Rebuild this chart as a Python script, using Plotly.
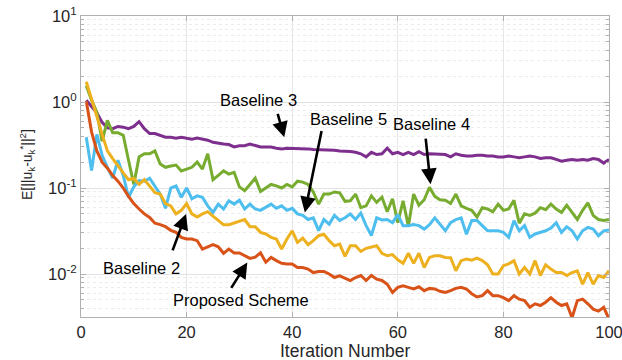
import plotly.graph_objects as go

iterations = list(range(1, 101))

baseline3 = [1.05, 0.9, 0.75, 0.58, 0.5, 0.49, 0.52, 0.51, 0.49, 0.52,
             0.59, 0.49, 0.43, 0.43, 0.41, 0.39, 0.39, 0.38, 0.39, 0.38,
             0.37, 0.38, 0.37, 0.36, 0.34, 0.33, 0.325, 0.32, 0.30, 0.31,
             0.31, 0.325, 0.31, 0.30, 0.30, 0.30, 0.29, 0.285, 0.29, 0.29,
             0.29, 0.29, 0.285, 0.28, 0.28, 0.28, 0.28, 0.275, 0.27, 0.27,
             0.265, 0.26, 0.25, 0.23, 0.26, 0.245, 0.25, 0.29, 0.25, 0.26,
             0.245, 0.26, 0.245, 0.265, 0.245, 0.25, 0.25, 0.25, 0.245, 0.23,
             0.25, 0.24, 0.235, 0.235, 0.24, 0.24, 0.235, 0.235, 0.23, 0.23,
             0.235, 0.23, 0.225, 0.23, 0.235, 0.23, 0.22, 0.225, 0.225, 0.215,
             0.205, 0.21, 0.215, 0.21, 0.215, 0.21, 0.22, 0.215, 0.195, 0.215]

baseline4 = [1.55, 1.05, 0.76, 0.35, 0.61, 0.44, 0.44, 0.41, 0.21, 0.11,
             0.23, 0.25, 0.25, 0.27, 0.19, 0.174, 0.18, 0.185, 0.158, 0.166,
             0.174, 0.2, 0.166, 0.25, 0.125, 0.14, 0.158, 0.145, 0.152, 0.103,
             0.093, 0.11, 0.13, 0.091, 0.1, 0.11, 0.106, 0.1, 0.11, 0.103,
             0.12, 0.117, 0.11, 0.09, 0.065, 0.085, 0.085, 0.09, 0.088, 0.07,
             0.071, 0.085, 0.059, 0.062, 0.081, 0.068, 0.078, 0.053, 0.075, 0.0395,
             0.071, 0.036, 0.085, 0.063, 0.073, 0.102, 0.08, 0.073, 0.072, 0.066,
             0.085, 0.062, 0.058, 0.055, 0.046, 0.059, 0.057, 0.053, 0.065, 0.055,
             0.057, 0.072, 0.039, 0.05, 0.048, 0.051, 0.059, 0.056, 0.065, 0.057,
             0.052, 0.063, 0.052, 0.043, 0.055, 0.067, 0.048, 0.043, 0.042, 0.043]

baseline5 = [0.39, 0.16, 0.42, 0.24, 0.174, 0.13, 0.21, 0.14, 0.078, 0.103,
             0.122, 0.12, 0.13, 0.106, 0.085, 0.058, 0.1, 0.106, 0.078, 0.1,
             0.075, 0.081, 0.078, 0.062, 0.052, 0.065, 0.057, 0.071, 0.065, 0.072,
             0.057, 0.065, 0.057, 0.055, 0.06, 0.065, 0.058, 0.062, 0.055, 0.058,
             0.05, 0.048, 0.043, 0.045, 0.032, 0.043, 0.038, 0.048, 0.042, 0.045,
             0.05, 0.043, 0.051, 0.0365, 0.028, 0.045, 0.0425, 0.043, 0.0395, 0.049,
             0.0365, 0.0365, 0.0375, 0.0365, 0.0333, 0.0375, 0.045, 0.0375, 0.0318, 0.0395,
             0.043, 0.045, 0.029, 0.042, 0.042, 0.0365, 0.0318, 0.0318, 0.0318, 0.0305,
             0.0267, 0.0417, 0.0318, 0.0365, 0.0267, 0.0292, 0.0305, 0.0318, 0.0343, 0.0395,
             0.0305, 0.0355, 0.0318, 0.0255, 0.0318, 0.0348, 0.0333, 0.0279, 0.0318, 0.0325]

baseline2 = [1.72, 1.1, 0.68, 0.42, 0.27, 0.22, 0.18, 0.15, 0.125, 0.13,
             0.11, 0.125, 0.105, 0.088, 0.085, 0.066, 0.062, 0.05, 0.055, 0.066,
             0.05, 0.046, 0.05, 0.053, 0.047, 0.042, 0.0375, 0.0375, 0.0395, 0.0417,
             0.043, 0.0355, 0.0355, 0.0305, 0.0292, 0.0267, 0.0255, 0.0195, 0.0255, 0.0318,
             0.0233, 0.0262, 0.0219, 0.0244, 0.0279, 0.029, 0.0244, 0.0213, 0.0223, 0.016,
             0.0213, 0.0213, 0.0183, 0.0199, 0.0205, 0.0213, 0.0174, 0.0163, 0.0168, 0.0146,
             0.0133, 0.0174, 0.0133, 0.0174, 0.0119, 0.0156, 0.0163, 0.0163, 0.0156, 0.0155,
             0.0109, 0.0143, 0.0149, 0.0145, 0.0153, 0.0143, 0.0128, 0.01, 0.01, 0.0125,
             0.0131, 0.0143, 0.01, 0.0119, 0.01, 0.0143, 0.0096, 0.0128, 0.0114, 0.0104,
             0.0104, 0.0096, 0.0104, 0.0109, 0.0076, 0.0104, 0.0076, 0.0096, 0.0091, 0.0109]

proposed = [1.02, 0.45, 0.27, 0.2, 0.17, 0.14, 0.12, 0.1, 0.08, 0.066,
            0.057, 0.05, 0.0455, 0.039, 0.0375, 0.0355, 0.0322, 0.0305, 0.0267, 0.0255,
            0.0255, 0.0244, 0.0195, 0.0205, 0.0219, 0.0207, 0.0174, 0.0195, 0.0176, 0.0176,
            0.0163, 0.0152, 0.0157, 0.0176, 0.0137, 0.0156, 0.0143, 0.0133, 0.0131, 0.0131,
            0.0119, 0.0119, 0.0114, 0.0104, 0.0107, 0.0107, 0.01, 0.0091, 0.0095, 0.0089,
            0.0084, 0.0091, 0.0096, 0.0084, 0.0096, 0.0087, 0.0084, 0.0076, 0.0061, 0.007,
            0.0073, 0.007, 0.0067, 0.0071, 0.0064, 0.0068, 0.0067, 0.0063, 0.0061, 0.0064,
            0.0068, 0.007, 0.0067, 0.0059, 0.0054, 0.0056, 0.0064, 0.0056, 0.0056, 0.0053,
            0.0049, 0.0056, 0.0051, 0.0049, 0.0041, 0.0045, 0.0043, 0.0047, 0.0053, 0.0047,
            0.0043, 0.0045, 0.0031, 0.0049, 0.0051, 0.0045, 0.0039, 0.0037, 0.0041, 0.003]

series = [
    ("Baseline 3", baseline3, "#7E2F8E"),
    ("Baseline 4", baseline4, "#77AC30"),
    ("Baseline 5", baseline5, "#4DBEEE"),
    ("Baseline 2", baseline2, "#EDB120"),
    ("Proposed Scheme", proposed, "#D95319"),
]

x_ticks = [0, 20, 40, 60, 80, 100]
y_tickvals = [0.01, 0.1, 1, 10]
y_ticktext = ["10<sup>-2</sup>", "10<sup>-1</sup>", "10<sup>0</sup>", "10<sup>1</sup>"]
x_title = "Iteration Number"
y_title = "E[||u<sub>k</sub>-u<sub>k</sub><sup>*</sup>||<sup>2</sup>]"

# label text positions (x, log10 y) and arrow tips (x, log10 y, tail offset px)
labels = [
    ("Baseline 3", 33.6, 0.027),
    ("Baseline 5", 50.6, -0.194),
    ("Baseline 4", 66.3, -0.252),
    ("Baseline 2", 11.5, -1.927),
    ("Proposed Scheme", 30.3, -2.299),
]
arrows = [
    (38.5, -0.411, -7, -25),
    (42.4, -1.284, 17, -83),
    (66.2, -0.955, -5, -47),
    (19.9, -1.301, -14, 38),
    (31.5, -1.865, -17, 27),
]

fig = go.Figure()
for name, vals, col in series:
    fig.add_trace(go.Scatter(x=iterations, y=vals, mode="lines", name=name,
                             line=dict(color=col, width=3)))

for txt, lx, ly in labels:
    fig.add_annotation(x=lx, y=ly, xref="x", yref="y", text=txt, showarrow=False,
                       font=dict(size=16.5, color="#000000"))
for tx, ty, axo, ayo in arrows:
    fig.add_annotation(x=tx, y=ty, xref="x", yref="y", text="", showarrow=True,
                       ax=axo, ay=ayo, arrowhead=2, arrowsize=1.2, arrowwidth=2.6,
                       arrowcolor="#000000")

# axis titles
fig.add_annotation(x=0.5, y=-0.113, xref="paper", yref="paper", text=x_title,
                   showarrow=False, xanchor="center", yanchor="middle", borderpad=0,
                   font=dict(size=17.5, color="#262626"))
fig.add_annotation(x=-0.1023, y=0.508, xref="paper", yref="paper", text=y_title,
                   showarrow=False, textangle=-90, xanchor="center", yanchor="middle",
                   font=dict(size=14, color="#262626"))

axis_font = dict(family="Liberation Sans, Arial, sans-serif", size=16.5, color="#262626")

fig.update_layout(
    width=622, height=360,
    margin=dict(l=81, r=13, t=16, b=43, autoexpand=False),
    paper_bgcolor="white", plot_bgcolor="white",
    showlegend=False,
    font=dict(family="Liberation Sans, Arial, sans-serif", size=15, color="#262626"),
)
fig.update_xaxes(
    range=[0, 100], tickvals=x_ticks, tickfont=axis_font, ticklabelstandoff=0,
    ticklabeloverflow="allow", automargin=False,
    showgrid=True, gridcolor="#e6e6e6", gridwidth=1,
    showline=True, linecolor="#b0b0b0", linewidth=1, mirror="ticks",
    ticks="inside", ticklen=5, tickcolor="#b0b0b0", zeroline=False,
)
fig.update_yaxes(
    type="log", range=[-2.5, 1], tickvals=y_tickvals, ticktext=y_ticktext,
    tickfont=axis_font, automargin=False,
    showgrid=True, gridcolor="#e3e3e3", gridwidth=1,
    showline=True, linecolor="#b0b0b0", linewidth=1, mirror="ticks",
    ticks="inside", ticklen=5, tickcolor="#b0b0b0", zeroline=False,
    minor=dict(dtick="D1", ticks="inside", ticklen=3, tickcolor="#b0b0b0",
               showgrid=True, gridcolor="#ececec", griddash="dot"),
)

fig.write_html("out.html")
